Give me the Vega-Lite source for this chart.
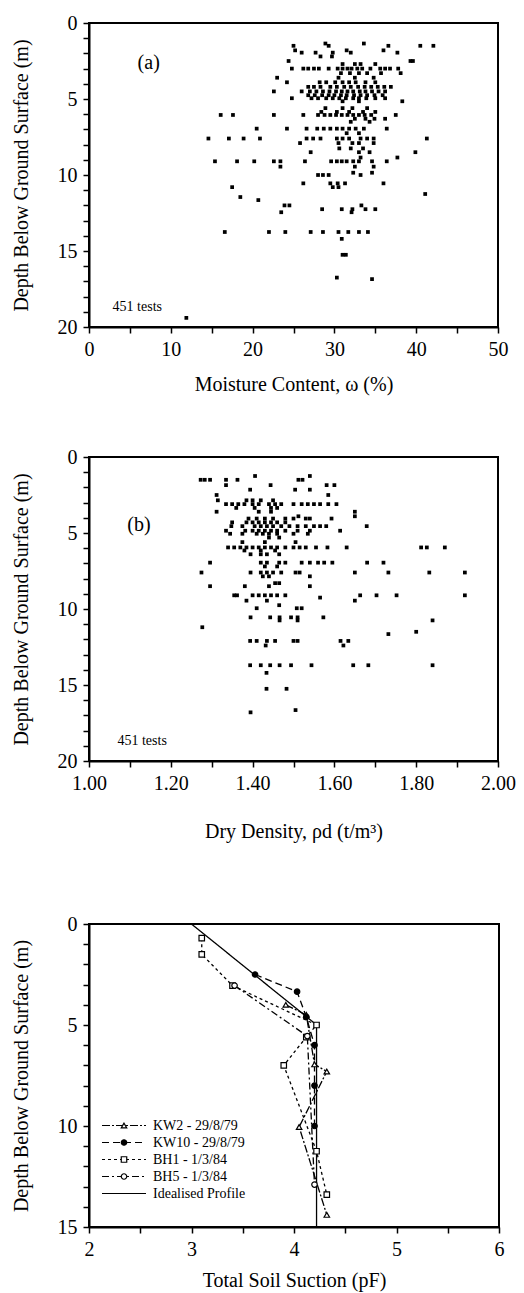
{
  "$schema": "https://vega.github.io/schema/vega-lite/v6.json",
  "padding": {"left": 10, "top": 12, "right": 5, "bottom": 5},
  "config": {
    "font": "Liberation Serif",
    "view": {"stroke": "black", "strokeWidth": 2},
    "axis": {"domainColor": "black", "domainWidth": 2, "tickColor": "black", "tickWidth": 1.5, "tickSize": 6, "labelColor": "black", "labelFontSize": 20, "labelFont": "Liberation Serif", "titleFont": "Liberation Serif", "titleFontSize": 20, "titleFontWeight": "normal", "titleColor": "black", "grid": false, "labelFlush": false, "labelOverlap": false, "labelPadding": 6},
    "text": {"font": "Liberation Serif", "color": "black"}
  },
  "datasets": {
    "moisture": [
      {"w":28.9,"d":1.35},{"w":33.6,"d":1.35},
      {"w":25.0,"d":1.5},{"w":29.3,"d":1.5},{"w":36.6,"d":1.5},{"w":40.5,"d":1.5},{"w":42.1,"d":1.5},
      {"w":25.2,"d":1.8},{"w":31.5,"d":1.8},{"w":36.0,"d":1.8},
      {"w":26.0,"d":1.95},{"w":27.7,"d":1.95},{"w":29.8,"d":1.95},{"w":32.0,"d":1.95},{"w":37.7,"d":1.95},
      {"w":28.3,"d":2.2},{"w":29.7,"d":2.2},
      {"w":24.4,"d":2.5},{"w":39.3,"d":2.5},{"w":39.6,"d":2.5},
      {"w":31.0,"d":2.7},{"w":32.5,"d":2.7},{"w":33.2,"d":2.7},{"w":35.0,"d":2.7},
      {"w":24.8,"d":3.0},{"w":26.2,"d":3.0},{"w":26.8,"d":3.0},{"w":27.5,"d":3.0},{"w":28.1,"d":3.0},{"w":29.3,"d":3.0},{"w":30.4,"d":3.0},{"w":31.0,"d":3.0},{"w":31.6,"d":3.0},{"w":32.1,"d":3.0},{"w":32.8,"d":3.0},{"w":33.4,"d":3.0},{"w":34.4,"d":3.0},{"w":35.6,"d":3.0},{"w":36.2,"d":3.0},{"w":36.8,"d":3.0},{"w":37.8,"d":3.0},
      {"w":30.8,"d":3.3},{"w":31.9,"d":3.3},{"w":33.0,"d":3.3},{"w":34.0,"d":3.3},{"w":35.7,"d":3.3},{"w":38.1,"d":3.3},
      {"w":23.0,"d":3.6},{"w":30.5,"d":3.6},{"w":32.5,"d":3.6},{"w":34.8,"d":3.6},
      {"w":24.2,"d":3.9},{"w":28.2,"d":3.9},{"w":29.0,"d":3.9},{"w":30.1,"d":3.9},{"w":31.0,"d":3.9},{"w":31.8,"d":3.9},{"w":32.6,"d":3.9},{"w":33.8,"d":3.9},{"w":35.0,"d":3.9},
      {"w":26.8,"d":4.2},{"w":27.5,"d":4.2},{"w":28.3,"d":4.2},{"w":29.5,"d":4.2},{"w":30.3,"d":4.2},{"w":31.2,"d":4.2},{"w":32.0,"d":4.2},{"w":32.9,"d":4.2},{"w":33.7,"d":4.2},{"w":34.5,"d":4.2},{"w":35.3,"d":4.2},{"w":36.1,"d":4.2},{"w":36.9,"d":4.2},
      {"w":22.6,"d":4.5},{"w":26.0,"d":4.5},{"w":27.0,"d":4.5},{"w":27.8,"d":4.5},{"w":28.6,"d":4.5},{"w":29.4,"d":4.5},{"w":30.2,"d":4.5},{"w":30.9,"d":4.5},{"w":31.6,"d":4.5},{"w":32.3,"d":4.5},{"w":33.1,"d":4.5},{"w":33.8,"d":4.5},{"w":34.6,"d":4.5},{"w":35.4,"d":4.5},{"w":36.2,"d":4.5},
      {"w":26.8,"d":4.75},{"w":27.6,"d":4.75},{"w":28.5,"d":4.75},{"w":29.3,"d":4.75},{"w":30.0,"d":4.75},{"w":30.8,"d":4.75},{"w":31.5,"d":4.75},{"w":32.4,"d":4.75},{"w":33.2,"d":4.75},{"w":34.0,"d":4.75},{"w":34.9,"d":4.75},{"w":35.9,"d":4.75},
      {"w":24.8,"d":4.95},{"w":27.2,"d":4.95},{"w":28.0,"d":4.95},{"w":29.0,"d":4.95},{"w":29.8,"d":4.95},{"w":30.6,"d":4.95},{"w":31.4,"d":4.95},{"w":32.3,"d":4.95},{"w":33.0,"d":4.95},{"w":33.9,"d":4.95},{"w":35.0,"d":4.95},{"w":36.2,"d":4.95},
      {"w":31.0,"d":5.15},{"w":33.0,"d":5.15},{"w":38.3,"d":5.15},
      {"w":28.9,"d":5.6},{"w":31.0,"d":5.6},{"w":32.2,"d":5.6},{"w":34.0,"d":5.6},
      {"w":28.4,"d":5.85},{"w":30.3,"d":5.85},{"w":31.8,"d":5.85},{"w":33.5,"d":5.85},{"w":35.0,"d":5.85},
      {"w":16.1,"d":6.05},{"w":17.6,"d":6.05},{"w":22.6,"d":6.05},{"w":26.2,"d":6.05},{"w":28.0,"d":6.05},{"w":28.8,"d":6.05},{"w":29.5,"d":6.05},{"w":30.2,"d":6.05},{"w":30.9,"d":6.05},{"w":31.6,"d":6.05},{"w":32.3,"d":6.05},{"w":33.0,"d":6.05},{"w":33.7,"d":6.05},{"w":34.5,"d":6.05},{"w":37.5,"d":6.05},
      {"w":32.5,"d":6.3},{"w":33.8,"d":6.3},{"w":34.9,"d":6.3},{"w":36.2,"d":6.3},
      {"w":32.0,"d":6.5},{"w":34.3,"d":6.5},
      {"w":20.5,"d":6.95},{"w":24.2,"d":6.95},{"w":26.6,"d":6.95},{"w":27.9,"d":6.95},{"w":28.7,"d":6.95},{"w":29.5,"d":6.95},{"w":30.3,"d":6.95},{"w":31.0,"d":6.95},{"w":31.8,"d":6.95},{"w":32.6,"d":6.95},{"w":33.6,"d":6.95},{"w":36.4,"d":6.95},
      {"w":31.5,"d":7.25},{"w":33.0,"d":7.25},
      {"w":14.6,"d":7.6},{"w":17.1,"d":7.6},{"w":18.9,"d":7.6},{"w":20.9,"d":7.6},{"w":26.6,"d":7.6},{"w":27.4,"d":7.6},{"w":28.3,"d":7.6},{"w":30.3,"d":7.6},{"w":31.0,"d":7.6},{"w":31.8,"d":7.6},{"w":33.2,"d":7.6},{"w":34.0,"d":7.6},{"w":34.8,"d":7.6},{"w":41.3,"d":7.6},
      {"w":25.8,"d":7.9},{"w":30.5,"d":7.9},{"w":32.2,"d":7.9},{"w":33.0,"d":7.9},{"w":34.8,"d":7.9},
      {"w":30.6,"d":8.25},{"w":32.0,"d":8.25},{"w":33.5,"d":8.25},
      {"w":27.1,"d":8.5},{"w":33.0,"d":8.5},{"w":34.3,"d":8.5},{"w":39.9,"d":8.5},
      {"w":33.2,"d":8.85},{"w":37.7,"d":8.85},
      {"w":15.4,"d":9.1},{"w":18.1,"d":9.1},{"w":20.2,"d":9.1},{"w":22.6,"d":9.1},{"w":23.4,"d":9.1},{"w":26.4,"d":9.1},{"w":29.6,"d":9.1},{"w":30.3,"d":9.1},{"w":30.9,"d":9.1},{"w":31.5,"d":9.1},{"w":32.3,"d":9.1},{"w":33.0,"d":9.1},{"w":34.6,"d":9.1},{"w":36.4,"d":9.1},
      {"w":23.4,"d":9.45},{"w":32.5,"d":9.45},{"w":34.8,"d":9.45},
      {"w":32.3,"d":9.85},{"w":34.6,"d":9.85},
      {"w":28.0,"d":10.0},{"w":28.6,"d":10.0},{"w":29.3,"d":10.0},{"w":33.2,"d":10.0},
      {"w":26.2,"d":10.55},{"w":29.5,"d":10.55},{"w":30.4,"d":10.55},{"w":31.3,"d":10.55},{"w":36.0,"d":10.55},
      {"w":17.5,"d":10.8},{"w":29.8,"d":10.8},{"w":30.5,"d":10.8},
      {"w":41.1,"d":11.25},{"w":18.5,"d":11.45},{"w":20.7,"d":11.65},
      {"w":23.9,"d":12.0},{"w":24.5,"d":12.0},{"w":33.3,"d":12.0},
      {"w":28.5,"d":12.25},{"w":30.9,"d":12.25},{"w":32.2,"d":12.25},{"w":33.8,"d":12.25},{"w":35.0,"d":12.25},
      {"w":23.5,"d":12.45},{"w":32.1,"d":12.45},
      {"w":16.6,"d":13.75},{"w":22.0,"d":13.75},{"w":24.0,"d":13.75},{"w":27.1,"d":13.75},{"w":28.6,"d":13.75},{"w":30.5,"d":13.75},{"w":31.7,"d":13.75},{"w":33.0,"d":13.75},{"w":34.1,"d":13.75},
      {"w":30.9,"d":14.2},{"w":31.0,"d":15.25},{"w":31.4,"d":15.25},{"w":30.3,"d":16.75},{"w":34.6,"d":16.85},{"w":11.9,"d":19.4}
    ],
    "density": [
      {"r":1.406,"d":1.25},{"r":1.54,"d":1.25},
      {"r":1.273,"d":1.5},{"r":1.283,"d":1.5},{"r":1.296,"d":1.5},{"r":1.335,"d":1.5},{"r":1.363,"d":1.5},{"r":1.512,"d":1.5},{"r":1.522,"d":1.5},
      {"r":1.335,"d":1.85},{"r":1.444,"d":1.85},{"r":1.581,"d":1.85},{"r":1.6,"d":1.85},
      {"r":1.394,"d":2.15},{"r":1.504,"d":2.15},{"r":1.54,"d":2.15},
      {"r":1.312,"d":2.5},{"r":1.585,"d":2.5},
      {"r":1.315,"d":2.85},{"r":1.385,"d":2.85},{"r":1.4,"d":2.85},{"r":1.42,"d":2.85},{"r":1.45,"d":2.85},
      {"r":1.335,"d":3.1},{"r":1.35,"d":3.1},{"r":1.365,"d":3.1},{"r":1.38,"d":3.1},{"r":1.4,"d":3.1},{"r":1.415,"d":3.1},{"r":1.44,"d":3.1},{"r":1.455,"d":3.1},{"r":1.47,"d":3.1},{"r":1.5,"d":3.1},{"r":1.52,"d":3.1},{"r":1.535,"d":3.1},{"r":1.55,"d":3.1},{"r":1.565,"d":3.1},{"r":1.585,"d":3.1},{"r":1.605,"d":3.1},
      {"r":1.36,"d":3.35},{"r":1.405,"d":3.35},{"r":1.445,"d":3.35},{"r":1.46,"d":3.35},
      {"r":1.312,"d":3.6},{"r":1.415,"d":3.6},{"r":1.445,"d":3.6},{"r":1.65,"d":3.6},
      {"r":1.512,"d":3.9},{"r":1.65,"d":3.9},
      {"r":1.39,"d":4.05},{"r":1.41,"d":4.05},{"r":1.43,"d":4.05},{"r":1.45,"d":4.05},{"r":1.48,"d":4.05},{"r":1.5,"d":4.05},{"r":1.53,"d":4.05},{"r":1.54,"d":4.05},{"r":1.593,"d":4.05},
      {"r":1.35,"d":4.3},{"r":1.385,"d":4.3},{"r":1.4,"d":4.3},{"r":1.415,"d":4.3},{"r":1.43,"d":4.3},{"r":1.445,"d":4.3},{"r":1.46,"d":4.3},{"r":1.48,"d":4.3},
      {"r":1.348,"d":4.55},{"r":1.375,"d":4.55},{"r":1.405,"d":4.55},{"r":1.42,"d":4.55},{"r":1.435,"d":4.55},{"r":1.45,"d":4.55},{"r":1.47,"d":4.55},{"r":1.49,"d":4.55},{"r":1.51,"d":4.55},{"r":1.53,"d":4.55},{"r":1.55,"d":4.55},{"r":1.565,"d":4.55},{"r":1.58,"d":4.55},{"r":1.679,"d":4.55},
      {"r":1.335,"d":4.85},{"r":1.382,"d":4.85},{"r":1.4,"d":4.85},{"r":1.415,"d":4.85},{"r":1.43,"d":4.85},{"r":1.445,"d":4.85},{"r":1.46,"d":4.85},{"r":1.48,"d":4.85},{"r":1.51,"d":4.85},{"r":1.54,"d":4.85},{"r":1.614,"d":4.85},
      {"r":1.345,"d":5.05},{"r":1.375,"d":5.05},{"r":1.41,"d":5.05},{"r":1.425,"d":5.05},{"r":1.44,"d":5.05},{"r":1.46,"d":5.05},{"r":1.5,"d":5.05},{"r":1.535,"d":5.05},
      {"r":1.44,"d":5.3},{"r":1.465,"d":5.3},
      {"r":1.375,"d":5.6},{"r":1.43,"d":5.6},{"r":1.505,"d":5.6},
      {"r":1.34,"d":5.95},{"r":1.355,"d":5.95},{"r":1.37,"d":5.95},{"r":1.385,"d":5.95},{"r":1.4,"d":5.95},{"r":1.415,"d":5.95},{"r":1.43,"d":5.95},{"r":1.445,"d":5.95},{"r":1.46,"d":5.95},{"r":1.48,"d":5.95},{"r":1.5,"d":5.95},{"r":1.515,"d":5.95},{"r":1.53,"d":5.95},{"r":1.555,"d":5.95},{"r":1.583,"d":5.95},{"r":1.63,"d":5.95},{"r":1.812,"d":5.95},{"r":1.826,"d":5.95},{"r":1.87,"d":5.95},
      {"r":1.38,"d":6.15},{"r":1.42,"d":6.15},{"r":1.455,"d":6.15},
      {"r":1.395,"d":6.4},{"r":1.42,"d":6.4},{"r":1.435,"d":6.4},{"r":1.465,"d":6.4},
      {"r":1.296,"d":6.95},{"r":1.42,"d":6.95},{"r":1.435,"d":6.95},{"r":1.465,"d":6.95},{"r":1.48,"d":6.95},{"r":1.52,"d":6.95},{"r":1.54,"d":6.95},{"r":1.56,"d":6.95},{"r":1.575,"d":6.95},{"r":1.595,"d":6.95},{"r":1.68,"d":6.95},{"r":1.72,"d":6.95},
      {"r":1.43,"d":7.2},{"r":1.46,"d":7.2},
      {"r":1.275,"d":7.6},{"r":1.395,"d":7.6},{"r":1.42,"d":7.6},{"r":1.435,"d":7.6},{"r":1.45,"d":7.6},{"r":1.47,"d":7.6},{"r":1.505,"d":7.6},{"r":1.515,"d":7.6},{"r":1.65,"d":7.6},{"r":1.732,"d":7.6},{"r":1.832,"d":7.6},{"r":1.919,"d":7.6},
      {"r":1.425,"d":7.85},{"r":1.44,"d":7.85},{"r":1.54,"d":7.85},
      {"r":1.455,"d":8.3},{"r":1.465,"d":8.3},
      {"r":1.296,"d":8.5},{"r":1.381,"d":8.5},{"r":1.44,"d":8.5},{"r":1.54,"d":8.5},
      {"r":1.355,"d":9.1},{"r":1.362,"d":9.1},{"r":1.4,"d":9.1},{"r":1.415,"d":9.1},{"r":1.43,"d":9.1},{"r":1.445,"d":9.1},{"r":1.46,"d":9.1},{"r":1.48,"d":9.1},{"r":1.663,"d":9.1},{"r":1.703,"d":9.1},{"r":1.752,"d":9.1},{"r":1.919,"d":9.1},
      {"r":1.565,"d":9.25},
      {"r":1.385,"d":9.45},{"r":1.435,"d":9.45},{"r":1.65,"d":9.45},
      {"r":1.465,"d":9.75},
      {"r":1.41,"d":9.95},{"r":1.508,"d":9.95},{"r":1.52,"d":9.95},
      {"r":1.395,"d":10.55},{"r":1.443,"d":10.55},{"r":1.466,"d":10.55},{"r":1.494,"d":10.55},{"r":1.51,"d":10.55},{"r":1.573,"d":10.55},
      {"r":1.466,"d":10.75},{"r":1.51,"d":10.75},{"r":1.84,"d":10.75},
      {"r":1.277,"d":11.2},{"r":1.8,"d":11.5},{"r":1.732,"d":11.65},
      {"r":1.394,"d":12.1},{"r":1.41,"d":12.1},{"r":1.435,"d":12.1},{"r":1.455,"d":12.1},{"r":1.5,"d":12.1},{"r":1.51,"d":12.1},{"r":1.615,"d":12.1},{"r":1.634,"d":12.1},
      {"r":1.432,"d":12.4},{"r":1.622,"d":12.4},
      {"r":1.394,"d":13.7},{"r":1.42,"d":13.7},{"r":1.443,"d":13.7},{"r":1.466,"d":13.7},{"r":1.494,"d":13.7},{"r":1.544,"d":13.7},{"r":1.646,"d":13.7},{"r":1.683,"d":13.7},{"r":1.84,"d":13.7},
      {"r":1.434,"d":14.2},{"r":1.434,"d":15.25},{"r":1.483,"d":15.25},{"r":1.505,"d":16.65},{"r":1.395,"d":16.8}
    ],
    "suction": [
      {"series":"KW2 - 29/8/79","s":3.92,"d":4.0},{"series":"KW2 - 29/8/79","s":4.12,"d":4.5},{"series":"KW2 - 29/8/79","s":4.2,"d":6.95},{"series":"KW2 - 29/8/79","s":4.32,"d":7.3},{"series":"KW2 - 29/8/79","s":4.05,"d":10.05},{"series":"KW2 - 29/8/79","s":4.32,"d":14.4},
      {"series":"KW10 - 29/8/79","s":3.62,"d":2.5},{"series":"KW10 - 29/8/79","s":4.03,"d":3.35},{"series":"KW10 - 29/8/79","s":4.12,"d":4.6},{"series":"KW10 - 29/8/79","s":4.2,"d":6.0},{"series":"KW10 - 29/8/79","s":4.2,"d":8.0},{"series":"KW10 - 29/8/79","s":4.2,"d":10.0},
      {"series":"BH1 - 1/3/84","s":3.1,"d":0.7},{"series":"BH1 - 1/3/84","s":3.1,"d":1.5},{"series":"BH1 - 1/3/84","s":3.4,"d":3.05},{"series":"BH1 - 1/3/84","s":4.22,"d":5.0},{"series":"BH1 - 1/3/84","s":4.12,"d":5.6},{"series":"BH1 - 1/3/84","s":3.9,"d":7.0},{"series":"BH1 - 1/3/84","s":4.22,"d":11.25},{"series":"BH1 - 1/3/84","s":4.32,"d":13.4},
      {"series":"BH5 - 1/3/84","s":3.42,"d":3.05},{"series":"BH5 - 1/3/84","s":4.13,"d":5.55},{"series":"BH5 - 1/3/84","s":4.2,"d":12.9},
      {"series":"Idealised Profile","s":3.0,"d":0},{"series":"Idealised Profile","s":4.1,"d":4.5},{"series":"Idealised Profile","s":4.22,"d":5.0},{"series":"Idealised Profile","s":4.22,"d":15}
    ]
  },
  "vconcat": [
    {
      "vconcat": [
        {
          "width": 409, "height": 304,
          "layer": [
            {
              "data": {"name": "moisture"},
              "mark": {"type": "square", "size": 14, "color": "black", "opacity": 1},
              "encoding": {
                "x": {"field": "w", "type": "quantitative", "scale": {"domain": [0, 50], "nice": false},
                  "axis": {"values": [0,5,10,15,20,25,30,35,40,45,50], "labelOverlap": false, "labelExpr": "datum.value % 10 === 0 ? format(datum.value, 'd') : ''", "title": "Moisture Content, ω (%)", "titlePadding": 15}},
                "y": {"field": "d", "type": "quantitative", "scale": {"domain": [0, 20], "reverse": true, "nice": false},
                  "axis": {"values": [0,1,2,3,4,5,6,7,8,9,10,11,12,13,14,15,16,17,18,19,20], "labelOverlap": false, "labelExpr": "datum.value % 5 === 0 ? format(datum.value, 'd') : ''", "title": "Depth Below Ground Surface (m)", "titlePadding": 26}}
              }
            },
            {
              "data": {"values": [{"label": "(a)", "fs": "big"}, {"label": "451 tests", "fs": "small"}]},
              "transform": [{"filter": "datum.fs == 'big'"}],
              "mark": {"type": "text", "fontSize": 20},
              "encoding": {"text": {"field": "label"},
                "x": {"datum": 7.3, "type": "quantitative", "axis": {"values": [0,5,10,15,20,25,30,35,40,45,50], "labelOverlap": false, "labelExpr": "datum.value % 10 === 0 ? format(datum.value, 'd') : ''", "title": "Moisture Content, ω (%)", "titlePadding": 15}},
                "y": {"datum": 2.6, "type": "quantitative", "axis": {"values": [0,1,2,3,4,5,6,7,8,9,10,11,12,13,14,15,16,17,18,19,20], "labelOverlap": false, "labelExpr": "datum.value % 5 === 0 ? format(datum.value, 'd') : ''", "title": "Depth Below Ground Surface (m)", "titlePadding": 26}}}
            },
            {
              "data": {"values": [{"label": "(a)", "fs": "big"}, {"label": "451 tests", "fs": "small"}]},
              "transform": [{"filter": "datum.fs == 'small'"}],
              "mark": {"type": "text", "fontSize": 14},
              "encoding": {"text": {"field": "label"},
                "x": {"datum": 5.9, "type": "quantitative", "axis": {"values": [0,5,10,15,20,25,30,35,40,45,50], "labelOverlap": false, "labelExpr": "datum.value % 10 === 0 ? format(datum.value, 'd') : ''", "title": "Moisture Content, ω (%)", "titlePadding": 15}},
                "y": {"datum": 18.7, "type": "quantitative", "axis": {"values": [0,1,2,3,4,5,6,7,8,9,10,11,12,13,14,15,16,17,18,19,20], "labelOverlap": false, "labelExpr": "datum.value % 5 === 0 ? format(datum.value, 'd') : ''", "title": "Depth Below Ground Surface (m)", "titlePadding": 26}}}
            }
          ]
        },
        {
          "width": 409, "height": 304,
          "layer": [
            {
              "data": {"name": "density"},
              "mark": {"type": "square", "size": 14, "color": "black", "opacity": 1},
              "encoding": {
                "x": {"field": "r", "type": "quantitative", "scale": {"domain": [1, 2], "nice": false, "zero": false},
                  "axis": {"values": [1,1.1,1.2,1.3,1.4,1.5,1.6,1.7,1.8,1.9,2], "labelOverlap": false, "labelExpr": "indexof(['1.00','1.20','1.40','1.60','1.80','2.00'], format(datum.value, '.2f')) >= 0 ? format(datum.value, '.2f') : ''", "title": "Dry Density, ρd (t/m³)", "titlePadding": 28}},
                "y": {"field": "d", "type": "quantitative", "scale": {"domain": [0, 20], "reverse": true, "nice": false},
                  "axis": {"values": [0,1,2,3,4,5,6,7,8,9,10,11,12,13,14,15,16,17,18,19,20], "labelOverlap": false, "labelExpr": "datum.value % 5 === 0 ? format(datum.value, 'd') : ''", "title": "Depth Below Ground Surface (m)", "titlePadding": 26}}
              }
            },
            {
              "data": {"values": [{"label": "(b)", "fs": "big"}, {"label": "451 tests", "fs": "small"}]},
              "transform": [{"filter": "datum.fs == 'big'"}],
              "mark": {"type": "text", "fontSize": 20},
              "encoding": {"text": {"field": "label"},
                "x": {"datum": 1.122, "type": "quantitative", "axis": {"values": [1,1.1,1.2,1.3,1.4,1.5,1.6,1.7,1.8,1.9,2], "labelOverlap": false, "labelExpr": "indexof(['1.00','1.20','1.40','1.60','1.80','2.00'], format(datum.value, '.2f')) >= 0 ? format(datum.value, '.2f') : ''", "title": "Dry Density, ρd (t/m³)", "titlePadding": 28}},
                "y": {"datum": 4.47, "type": "quantitative", "axis": {"values": [0,1,2,3,4,5,6,7,8,9,10,11,12,13,14,15,16,17,18,19,20], "labelOverlap": false, "labelExpr": "datum.value % 5 === 0 ? format(datum.value, 'd') : ''", "title": "Depth Below Ground Surface (m)", "titlePadding": 26}}}
            },
            {
              "data": {"values": [{"label": "(b)", "fs": "big"}, {"label": "451 tests", "fs": "small"}]},
              "transform": [{"filter": "datum.fs == 'small'"}],
              "mark": {"type": "text", "fontSize": 14},
              "encoding": {"text": {"field": "label"},
                "x": {"datum": 1.13, "type": "quantitative", "axis": {"values": [1,1.1,1.2,1.3,1.4,1.5,1.6,1.7,1.8,1.9,2], "labelOverlap": false, "labelExpr": "indexof(['1.00','1.20','1.40','1.60','1.80','2.00'], format(datum.value, '.2f')) >= 0 ? format(datum.value, '.2f') : ''", "title": "Dry Density, ρd (t/m³)", "titlePadding": 28}},
                "y": {"datum": 18.7, "type": "quantitative", "axis": {"values": [0,1,2,3,4,5,6,7,8,9,10,11,12,13,14,15,16,17,18,19,20], "labelOverlap": false, "labelExpr": "datum.value % 5 === 0 ? format(datum.value, 'd') : ''", "title": "Depth Below Ground Surface (m)", "titlePadding": 26}}}
            }
          ]
        }
      ],
      "spacing": 51
    },
    {
      "width": 410, "height": 303,
      "encoding": {
        "x": {"field": "s", "type": "quantitative", "scale": {"domain": [2, 6], "nice": false, "zero": false},
          "axis": {"values": [2,2.5,3,3.5,4,4.5,5,5.5,6], "labelOverlap": false, "labelExpr": "datum.value % 1 === 0 ? format(datum.value, 'd') : ''", "title": "Total Soil Suction (pF)", "titlePadding": 11}},
        "y": {"field": "d", "type": "quantitative", "scale": {"domain": [0, 15], "reverse": true, "nice": false},
          "axis": {"values": [0,1,2,3,4,5,6,7,8,9,10,11,12,13,14,15], "labelOverlap": false, "labelExpr": "datum.value % 5 === 0 ? format(datum.value, 'd') : ''", "title": "Depth Below Ground Surface (m)", "titlePadding": 26}}
      },
      "layer": [
        {
          "data": {"name": "suction"},
          "mark": {"type": "line", "color": "black", "strokeWidth": 1.3},
          "encoding": {
            "order": {"value": null},
            "strokeDash": {"field": "series", "type": "nominal",
              "scale": {"domain": ["KW2 - 29/8/79","KW10 - 29/8/79","BH1 - 1/3/84","BH5 - 1/3/84","Idealised Profile"], "range": [[8,2,2,2],[7,4],[3,3],[7,3,2,3],[1,0]]},
              "legend": {"orient": "none", "legendX": 12, "legendY": 1094, "symbolType": "stroke", "symbolSize": 1936, "symbolStrokeWidth": 1.2, "symbolStrokeColor": "black", "labelFontSize": 14, "labelFont": "Liberation Serif", "labelColor": "black", "clipHeight": 17, "padding": 0, "rowPadding": 0, "title": null, "labelOffset": 6}}
          }
        },
        {
          "data": {"name": "suction"},
          "transform": [{"filter": "datum.series != 'Idealised Profile'"}],
          "mark": {"type": "point", "filled": true, "stroke": "black", "strokeWidth": 1.2, "size": 30, "opacity": 1},
          "encoding": {
            "shape": {"field": "series", "type": "nominal",
              "scale": {"domain": ["KW2 - 29/8/79","KW10 - 29/8/79","BH1 - 1/3/84","BH5 - 1/3/84"], "range": ["triangle-up","circle","square","circle"]},
              "legend": {"orient": "none", "legendX": 28, "legendY": 1094, "symbolSize": 30, "symbolStrokeWidth": 1.2, "symbolStrokeColor": "black", "symbolFillColor": "white", "labelFontSize": 14, "labelExpr": "''", "clipHeight": 17, "padding": 0, "rowPadding": 0, "title": null}},
            "fill": {"field": "series", "type": "nominal",
              "scale": {"domain": ["KW2 - 29/8/79","KW10 - 29/8/79","BH1 - 1/3/84","BH5 - 1/3/84"], "range": ["white","black","white","white"]},
              "legend": null}
          }
        },
        {
          "data": {"values": [{"label": "(c)"}]},
          "mark": {"type": "text", "fontSize": 20},
          "encoding": {"text": {"field": "label"}, "x": {"datum": 2.47, "type": "quantitative"}, "y": {"datum": 4.95, "type": "quantitative"}}
        }
      ]
    }
  ],
  "spacing": 71
}
